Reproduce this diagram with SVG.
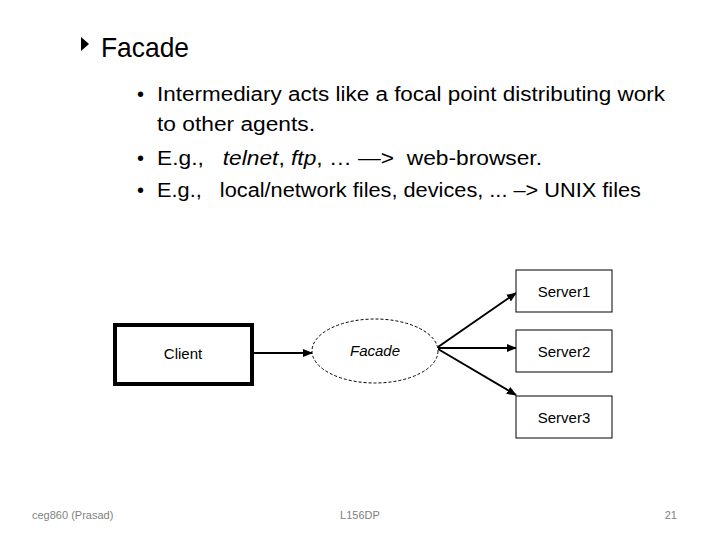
<svg xmlns="http://www.w3.org/2000/svg" width="720" height="540" viewBox="0 0 720 540">
<defs>
<style>
text{font-family:"Liberation Sans","DejaVu Sans",sans-serif;fill:#000}
.b{font-size:20px}
.n{font-size:15px}
.f{font-size:11px;fill:#7f7f7f}
.box{fill:#fff;stroke:#000;stroke-width:1}
.con{stroke:#000;stroke-width:2;fill:none;marker-end:url(#ah)}
</style>
<marker id="ah" viewBox="0 0 10 10" refX="9" refY="5" markerWidth="5" markerHeight="5" orient="auto" markerUnits="strokeWidth">
<path d="M0,1 L10,5 L0,9 z" fill="#000"/>
</marker>
</defs>
<rect width="720" height="540" fill="#fff"/>
<polygon points="81,37 89,44 81,51" fill="#000"/>
<text x="101" y="57" font-size="28" textLength="88" lengthAdjust="spacingAndGlyphs">Facade</text>
<text class="b" x="137" y="101">•</text>
<text class="b" x="157" y="101" textLength="508" lengthAdjust="spacingAndGlyphs">Intermediary acts like a focal point distributing work</text>
<text class="b" x="157" y="131" textLength="158" lengthAdjust="spacingAndGlyphs">to other agents.</text>
<text class="b" x="137" y="165">•</text>
<text class="b" x="157" y="165" textLength="385" lengthAdjust="spacingAndGlyphs" xml:space="preserve">E.g.,   <tspan font-style="italic">telnet</tspan>, <tspan font-style="italic">ftp</tspan>, … —&gt;  web-browser.</text>
<text class="b" x="137" y="197">•</text>
<text class="b" x="157" y="197" textLength="484" lengthAdjust="spacingAndGlyphs" xml:space="preserve">E.g.,   local/network files, devices, ... –&gt; UNIX files</text>
<g id="connectors">
<line class="con" x1="253" y1="353" x2="312" y2="353"/>
<line class="con" x1="438" y1="347" x2="516" y2="293"/>
<line class="con" x1="438" y1="348" x2="516" y2="348"/>
<line class="con" x1="438" y1="349" x2="516" y2="395"/>
</g>
<g id="client">
<rect x="115" y="325" width="137" height="59" fill="#fff" stroke="#000" stroke-width="4"/>
<text class="n" x="183" y="359" text-anchor="middle">Client</text>
</g>
<g id="facade">
<ellipse cx="375" cy="351" rx="63" ry="32" fill="#fff" stroke="#000" stroke-width="1" stroke-dasharray="3,2"/>
<text class="n" x="375" y="356" text-anchor="middle" font-style="italic">Facade</text>
</g>
<g id="server1">
<rect class="box" x="516" y="270" width="96" height="42"/>
<text class="n" x="564" y="297" text-anchor="middle">Server1</text>
</g>
<g id="server2">
<rect class="box" x="516" y="330" width="96" height="42"/>
<text class="n" x="564" y="357" text-anchor="middle">Server2</text>
</g>
<g id="server3">
<rect class="box" x="516" y="396" width="96" height="42"/>
<text class="n" x="564" y="423" text-anchor="middle">Server3</text>
</g>
<text class="f" x="32" y="519">ceg860 (Prasad)</text>
<text class="f" x="360" y="519" text-anchor="middle">L156DP</text>
<text class="f" x="677" y="519" text-anchor="end">21</text>
</svg>
